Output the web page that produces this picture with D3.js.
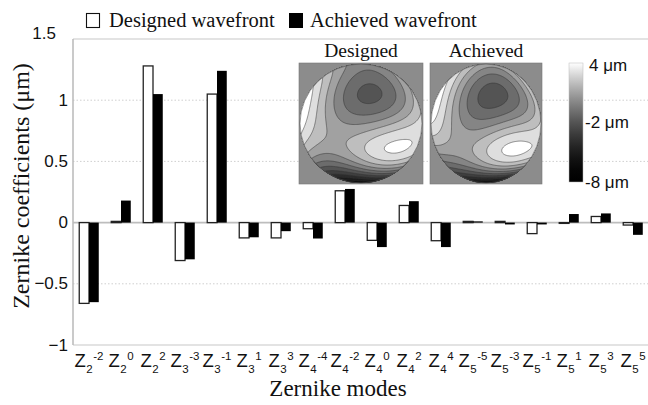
<!DOCTYPE html>
<html><head><meta charset="utf-8">
<script src="https://cdn.jsdelivr.net/npm/d3@7"></script>
<style>body{margin:0;background:#fff}</style>
</head><body><svg id="c" width="648" height="405"></svg>
<script>
// ---- data ----
const radialOrder   = [2,2,2,3,3,3,3,4,4,4,4,4,5,5,5,5,5,5];
const azimuthalFreq = [-2,0,2,-3,-1,1,3,-4,-2,0,2,4,-5,-3,-1,1,3,5];
const designed = [-0.66,0.01,1.28,-0.31,1.05,-0.125,-0.125,-0.05,0.26,-0.145,0.14,-0.148,0.01,0.01,-0.09,0.0,0.05,-0.02];
const achieved = [-0.65,0.18,1.05,-0.30,1.24,-0.12,-0.07,-0.13,0.275,-0.20,0.175,-0.20,0.01,-0.015,-0.015,0.07,0.075,-0.10];
const seriesNames = ["Designed wavefront","Achieved wavefront"];
const yTicks = [-1,-0.5,0,0.5,1,1.5];
const gridTicks = [-0.5,0.5,1];
const colorbarTicks = [4,-2,-8];
const levelCount = 12;

const categories = radialOrder.map((n,i)=>"Z"+n+"^"+azimuthalFreq[i]);

const svg = d3.select("#c");
const sans = "'Liberation Sans', Arial, sans-serif";
const serif = "'Liberation Serif', 'Times New Roman', serif";

const L = 73, R = 649, T = 39, B = 345;
const y = d3.scaleLinear().domain([-1,1.5]).range([B,T]);
const x0 = d3.scaleBand().domain(categories).range([L,R]).paddingInner(0.39).paddingOuter(0.195);
const x1 = d3.scaleBand().domain(seriesNames).range([0,x0.bandwidth()]);

// frame & grid
svg.append("line").attr("x1",L).attr("x2",648).attr("y1",T).attr("y2",T).attr("stroke","#c8c8c8").attr("stroke-width",1.2);
svg.append("line").attr("x1",L).attr("x2",648).attr("y1",B).attr("y2",B).attr("stroke","#c8c8c8").attr("stroke-width",1.2);
svg.selectAll("line.grid").data(gridTicks).join("line").attr("class","grid")
  .attr("x1",L).attr("x2",648).attr("y1",d=>y(d)).attr("y2",d=>y(d))
  .attr("stroke","#cfcfcf").attr("stroke-dasharray","1.5,2").attr("stroke-width",1);
svg.append("line").attr("x1",L).attr("x2",648).attr("y1",y(0)).attr("y2",y(0)).attr("stroke","#bdbdbd").attr("stroke-width",1.6);
svg.append("line").attr("x1",L).attr("x2",L).attr("y1",T).attr("y2",B).attr("stroke","#bdbdbd").attr("stroke-width",1.6);

// y tick labels
svg.selectAll("text.yt").data(yTicks).join("text").attr("class","yt")
  .attr("x",d=>d===1.5?56:68).attr("y",d=>d===1.5?y(d)-6:y(d))
  .attr("text-anchor","end").attr("dominant-baseline","central")
  .attr("font-family",sans).attr("font-size",17).attr("fill","#111")
  .text(d=>d3.format("")(d));

// bars
const rows = categories.map((c,i)=>({c, vals:[designed[i],achieved[i]]}));
const g = svg.selectAll("g.cat").data(rows).join("g").attr("class","cat")
  .attr("transform",d=>`translate(${x0(d.c)},0)`);
g.selectAll("rect").data(d=>d.vals.map((v,k)=>({k,v}))).join("rect")
  .attr("x",d=>x1(seriesNames[d.k]))
  .attr("width",x1.bandwidth())
  .attr("y",d=>Math.min(y(d.v),y(0)))
  .attr("height",d=>Math.max(Math.abs(y(d.v)-y(0)),0.8))
  .attr("fill",d=>d.k===0?"#fff":"#000")
  .attr("stroke",d=>d.k===0?"#222":"none")
  .attr("stroke-width",1.3);

// x tick labels
const xl = svg.selectAll("text.xt").data(categories).join("text").attr("class","xt")
  .attr("x",(d)=>x0(d)+x0.bandwidth()/2).attr("y",367)
  .attr("text-anchor","middle").attr("font-family",sans).attr("fill","#111");
xl.each(function(d,i){
  const t = d3.select(this);
  t.append("tspan").attr("font-size",18.5).text("Z");
  t.append("tspan").attr("font-size",11.5).attr("dy",6).attr("dx",0.5).text(radialOrder[i]);
  t.append("tspan").attr("font-size",11.5).attr("dy",-13).attr("dx",0.5).text(azimuthalFreq[i]);
});

// axis titles
svg.append("text").attr("x",338).attr("y",396).attr("text-anchor","middle")
  .attr("font-family",serif).attr("font-size",23).attr("fill","#111").text("Zernike modes");
svg.append("text").attr("transform","translate(29,186) rotate(-90)").attr("text-anchor","middle")
  .attr("font-family",serif).attr("font-size",24).attr("fill","#111").text("Zernike coefficients (μm)");

// legend
svg.append("rect").attr("x",86.5).attr("y",13.5).attr("width",13).attr("height",14).attr("fill","#fff").attr("stroke","#111").attr("stroke-width",1.1);
svg.append("text").attr("x",109).attr("y",27).attr("font-family",serif).attr("font-size",20.5).attr("fill","#111").text(seriesNames[0]);
svg.append("rect").attr("x",289).attr("y",13).attr("width",14).attr("height",15).attr("fill","#000");
svg.append("text").attr("x",310).attr("y",27).attr("font-family",serif).attr("font-size",20.5).attr("fill","#111").text(seriesNames[1]);

// ---- wavefront insets computed from the coefficients ----
function fact(k){let r=1;for(let i=2;i<=k;i++)r*=i;return r;}
function zern(n,m,rho,th){
  const am=Math.abs(m);let R0=0;
  for(let k=0;k<=(n-am)/2;k++){
    R0 += (k%2?-1:1)*fact(n-k)/(fact(k)*fact((n+am)/2-k)*fact((n-am)/2-k))*Math.pow(rho,n-2*k);
  }
  const N = m===0?Math.sqrt(n+1):Math.sqrt(2*(n+1));
  return N*R0*(m>=0?Math.cos(am*th):Math.sin(am*th));
}
const GN = 100;
function field(coeffs){
  const vals = new Float64Array(GN*GN); const inside=[];
  for(let j=0;j<GN;j++)for(let i=0;i<GN;i++){
    const xx=(i+0.5)/GN*2-1, yy=1-(j+0.5)/GN*2;
    const r=Math.hypot(xx,yy), rho=Math.min(r,1), th=Math.atan2(yy,xx);
    let s=0;
    for(let k=0;k<coeffs.length;k++) s+=coeffs[k]*zern(radialOrder[k],azimuthalFreq[k],rho,th);
    vals[i+j*GN]=s; if(r<=1) inside.push(s);
  }
  return {vals, inside};
}
const fD = field(designed), fA = field(achieved);
const ext = d3.extent(fD.inside.concat(fA.inside));
const grayLevel = d3.scalePow().exponent(1.6).domain([0,1]).range([0,255]).clamp(true);
const frac = d3.scaleLinear().domain(ext).range([0,1]).clamp(true);
const gray = v => { const l = grayLevel(frac(v)); return d3.rgb(l,l,l).formatHex(); };
const step = (ext[1]-ext[0])/levelCount;
const levels = d3.range(levelCount).map(k=>ext[0]+k*step);
const defs = svg.append("defs");
function drawMap(f, bx, by, bw, bh, id, title){
  const cs = d3.contours().size([GN,GN]).thresholds(levels)(f.vals);
  const path = d3.geoPath(d3.geoTransform({point(px,py){this.stream.point(bx+px/GN*bw, by+py/GN*bh);}}));
  svg.append("rect").attr("x",bx).attr("y",by).attr("width",bw).attr("height",bh).attr("fill","#8c8c8c").attr("stroke","#777").attr("stroke-width",0.6);
  defs.append("clipPath").attr("id",id).append("ellipse")
    .attr("cx",bx+bw/2).attr("cy",by+bh/2).attr("rx",bw/2-1).attr("ry",bh/2-1);
  const gg = svg.append("g").attr("clip-path",`url(#${id})`);
  gg.append("rect").attr("x",bx).attr("y",by).attr("width",bw).attr("height",bh).attr("fill",gray(ext[0]));
  gg.selectAll("path").data(cs).join("path").attr("d",path)
    .attr("fill",d=>gray(d.value+step)).attr("stroke","#333").attr("stroke-width",0.5);
  svg.append("ellipse").attr("cx",bx+bw/2).attr("cy",by+bh/2).attr("rx",bw/2-1).attr("ry",bh/2-1)
    .attr("fill","none").attr("stroke","#555").attr("stroke-width",0.6);
  svg.append("text").attr("x",bx+bw/2).attr("y",57).attr("text-anchor","middle")
    .attr("font-family",serif).attr("font-size",19.5).attr("fill","#111").text(title);
}
drawMap(fD, 299, 63, 124, 121, "clipD", "Designed");
drawMap(fA, 430, 63, 112, 121, "clipA", "Achieved");

// colorbar
const cb = {x:569,y:63,w:14,h:119};
const cbScale = d3.scaleLinear().domain([4,-8]).range([cb.y,cb.y+cb.h]);
const grad = defs.append("linearGradient").attr("id","cbg").attr("x1",0).attr("x2",0).attr("y1",0).attr("y2",1);
d3.range(0,1.001,0.1).forEach(t=>{
  const l = grayLevel(1-t);
  grad.append("stop").attr("offset",(t*100)+"%").attr("stop-color",d3.rgb(l,l,l).formatHex());
});
svg.append("rect").attr("x",cb.x).attr("y",cb.y).attr("width",cb.w).attr("height",cb.h).attr("fill","url(#cbg)").attr("stroke","#bbb").attr("stroke-width",0.5);
svg.selectAll("text.cbt").data(colorbarTicks).join("text").attr("class","cbt")
  .attr("x",d=>d>0?589:585).attr("y",d=>cbScale(d)+(d===4?2:0)).attr("dominant-baseline","central")
  .attr("font-family",sans).attr("font-size",17).attr("fill","#111").text(d=>d+" μm");
</script></body></html>
